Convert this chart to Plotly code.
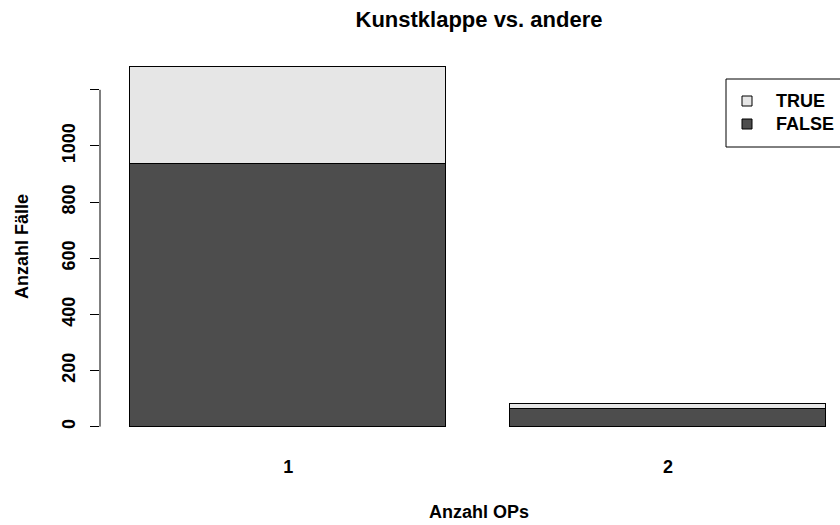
import plotly.graph_objects as go

# Counts per number of operations, split by Kunstklappe (TRUE/FALSE)
categories = ["1", "2"]
false_counts = [935, 63]
true_counts = [345, 17]
series_names = ["FALSE", "TRUE"]
series_colors = ["#4D4D4D", "#E6E6E6"]
y_ticks = [0, 200, 400, 600, 800, 1000, 1200]
y_tick_labels = ["0", "200", "400", "600", "800", "1000", ""]

title = "Kunstklappe vs. andere"
x_title = "Anzahl OPs"
y_title = "Anzahl Fälle"

FONT = "Liberation Sans, Arial, sans-serif"

# bar geometry as in base-R barplot: width 1, space 0.2
bar_width = 1.0
space = 0.2
centers = [space + bar_width / 2 + i * (bar_width + space) for i in range(len(categories))]

fig = go.Figure()
for name, vals, col in zip(series_names, [false_counts, true_counts], series_colors):
    fig.add_trace(go.Bar(
        x=centers, y=vals, width=bar_width, name=name,
        marker=dict(color=col, line=dict(color="#000000", width=1)),
        showlegend=False,
    ))

# plot-area geometry (pixels); the drawing region runs a little past the right edge
W, H = 840, 525
L, R, T, B = 100, 0, 53, 84
px_per_unit = 316.4
x_left = centers[0] - bar_width / 2 - 30 / px_per_unit
x_right = x_left + (W - L - R) / px_per_unit
total_max = max(f + t for f, t in zip(false_counts, true_counts))
y_pad = 0.04 * total_max
title_cx = 479  # horizontal centre of the full plot region

pw, ph = W - L - R, H - T - B
def px(xp): return (xp - L) / pw
def py(yp): return (H - B - yp) / ph

fig.update_layout(
    width=W, height=H, barmode="stack",
    margin=dict(l=L, r=R, t=T, b=B, autoexpand=False),
    paper_bgcolor="white", plot_bgcolor="white",
    font=dict(family=FONT, size=18, color="black", weight="bold"),
    title=dict(text=title, x=title_cx / W, xanchor="center",
               y=1 - 19 / H, yanchor="middle",
               font=dict(size=22, family=FONT, weight="bold")),
    xaxis=dict(range=[x_left, x_right], tickvals=centers, ticktext=categories,
               showline=False, showgrid=False, zeroline=False, ticks="",
               ticklabelstandoff=13, automargin=False,
               tickfont=dict(size=18)),
    yaxis=dict(range=[-y_pad, total_max + y_pad], tickvals=y_ticks, ticktext=y_tick_labels,
               showline=False, showgrid=False, zeroline=False,
               ticks="outside", ticklen=9, tickcolor="black", tickwidth=1,
               tickangle=-90, ticklabelstandoff=8, automargin=False,
               tickfont=dict(size=18)),
    bargap=0,
)

# axis titles
fig.add_annotation(text=x_title, xref="paper", yref="paper", x=px(title_cx), y=py(512),
                   xanchor="center", yanchor="middle", showarrow=False,
                   font=dict(size=18, family=FONT, weight="bold"))
fig.add_annotation(text=y_title, xref="paper", yref="paper", x=px(22), y=0.5,
                   xanchor="center", yanchor="middle", showarrow=False, textangle=-90,
                   font=dict(size=18, family=FONT, weight="bold"))

# y axis line spans only the tick range
fig.add_shape(type="line", xref="paper", yref="y", x0=0, x1=0,
              y0=y_ticks[0], y1=y_ticks[-1], line=dict(color="black", width=1))

# legend box (top right, partly beyond the right edge)
fig.add_shape(type="rect", xref="paper", yref="paper",
              x0=px(726), x1=px(860), y0=py(147), y1=py(79),
              line=dict(color="black", width=1), fillcolor="white")
legend_rows = [("TRUE", series_colors[1], 101), ("FALSE", series_colors[0], 124)]
for name, col, yc in legend_rows:
    fig.add_shape(type="rect", xref="paper", yref="paper",
                  x0=px(742), x1=px(752), y0=py(yc + 5), y1=py(yc - 5),
                  line=dict(color="black", width=1), fillcolor=col)
    fig.add_annotation(text=name, xref="paper", yref="paper", x=px(774), y=py(yc),
                       xanchor="left", yanchor="middle", showarrow=False,
                       font=dict(size=18, family=FONT, weight="bold"))

fig.write_html("out.html")
